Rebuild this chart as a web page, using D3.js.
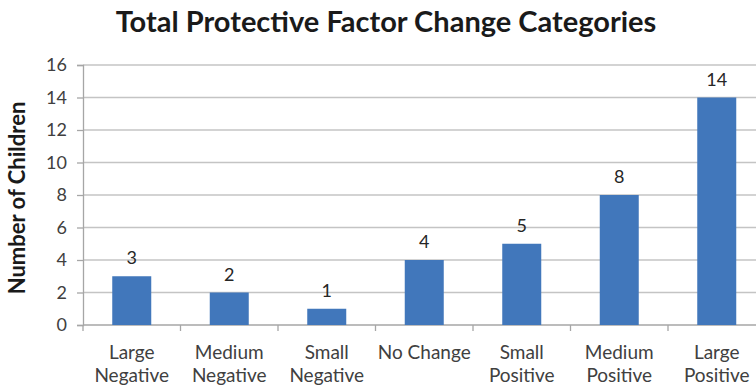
<!DOCTYPE html>
<html>
<head>
<meta charset="utf-8">
<script src="https://cdn.jsdelivr.net/npm/d3@7"></script>
<style>
  html, body { margin: 0; padding: 0; background: #fff; }
  svg { display: block; }
  text { font-family: Lato, "Open Sans", "Liberation Sans", sans-serif; }
</style>
</head>
<body>
<svg id="chart" width="756" height="387"></svg>
<script>
// Change categories (two-line labels) and number of children in each
const categories = [
  ["Large", "Negative"],
  ["Medium", "Negative"],
  ["Small", "Negative"],
  ["No Change"],
  ["Small", "Positive"],
  ["Medium", "Positive"],
  ["Large", "Positive"]
];
const counts = [3, 2, 1, 4, 5, 8, 14];
const yTicks = [0, 2, 4, 6, 8, 10, 12, 14, 16];

const svg = d3.select("#chart");
const margin = { left: 83, top: 65, bottom: 62 };
const plotW = 682.5;
const plotH = 387 - margin.top - margin.bottom;

const keys = categories.map((c, i) => i);
const x = d3.scaleBand().domain(keys).range([margin.left, margin.left + plotW])
  .paddingInner(0.6).paddingOuter(0.3);
const xBounds = d3.scaleLinear().domain([0, categories.length]).range([margin.left, margin.left + plotW]);
const y = d3.scaleLinear().domain([0, 16]).range([margin.top + plotH, margin.top]);

// Horizontal gridlines
svg.append("g")
  .selectAll("line").data(yTicks.filter(t => t > 0)).join("line")
  .attr("x1", margin.left).attr("x2", margin.left + plotW)
  .attr("y1", d => y(d)).attr("y2", d => y(d))
  .attr("stroke", "#c4c4c4").attr("stroke-width", 1.3);

// Y axis
const yAxis = svg.append("g")
  .attr("transform", `translate(${margin.left},0)`)
  .call(d3.axisLeft(y).tickValues(yTicks).tickSize(6).tickPadding(10));
yAxis.select(".domain").attr("stroke", "#a6a6a6").attr("stroke-width", 1.3);
yAxis.selectAll(".tick line").attr("stroke", "#a6a6a6").attr("stroke-width", 1.3);
yAxis.selectAll(".tick text").attr("font-size", 18).attr("fill", "#404040")
  .attr("font-family", "Lato, 'Open Sans', sans-serif");

// Baseline and category boundary ticks
svg.append("line")
  .attr("x1", margin.left).attr("x2", margin.left + plotW)
  .attr("y1", y(0)).attr("y2", y(0))
  .attr("stroke", "#a6a6a6").attr("stroke-width", 1.3);
svg.append("g")
  .selectAll("line").data(d3.range(categories.length + 1)).join("line")
  .attr("x1", d => xBounds(d)).attr("x2", d => xBounds(d))
  .attr("y1", y(0)).attr("y2", y(0) + 6)
  .attr("stroke", "#a6a6a6").attr("stroke-width", 1.3);

// Bars
svg.append("g")
  .selectAll("rect").data(counts).join("rect")
  .attr("x", (d, i) => x(i))
  .attr("width", x.bandwidth())
  .attr("y", d => y(d))
  .attr("height", d => y(0) - y(d))
  .attr("fill", "#4177bb");

// Value labels
svg.append("g")
  .selectAll("text").data(counts).join("text")
  .attr("x", (d, i) => x(i) + x.bandwidth() / 2)
  .attr("y", d => y(d) - 12)
  .attr("text-anchor", "middle")
  .attr("font-size", 18)
  .attr("fill", "#262626")
  .text(d => d);

// Category labels
const catG = svg.append("g");
categories.forEach((lines, i) => {
  const t = catG.append("text")
    .attr("x", x(i) + x.bandwidth() / 2)
    .attr("y", 359)
    .attr("text-anchor", "middle")
    .attr("font-size", 19)
    .attr("fill", "#404040");
  lines.forEach((ln, j) => {
    t.append("tspan").attr("x", x(i) + x.bandwidth() / 2).attr("dy", j === 0 ? 0 : 23).text(ln);
  });
});

// Title
svg.append("text")
  .attr("x", 386).attr("y", 32)
  .attr("text-anchor", "middle")
  .attr("font-size", 29)
  .attr("font-weight", "bold")
  .attr("fill", "#1a1a1a")
  .text("Total Protective Factor Change Categories");

// Y axis title
svg.append("text")
  .attr("transform", `translate(25,${margin.top + plotH / 2 + 3}) rotate(-90)`)
  .attr("text-anchor", "middle")
  .attr("font-size", 22)
  .attr("font-weight", "bold")
  .attr("fill", "#1a1a1a")
  .text("Number of Children");
</script>
</body>
</html>
